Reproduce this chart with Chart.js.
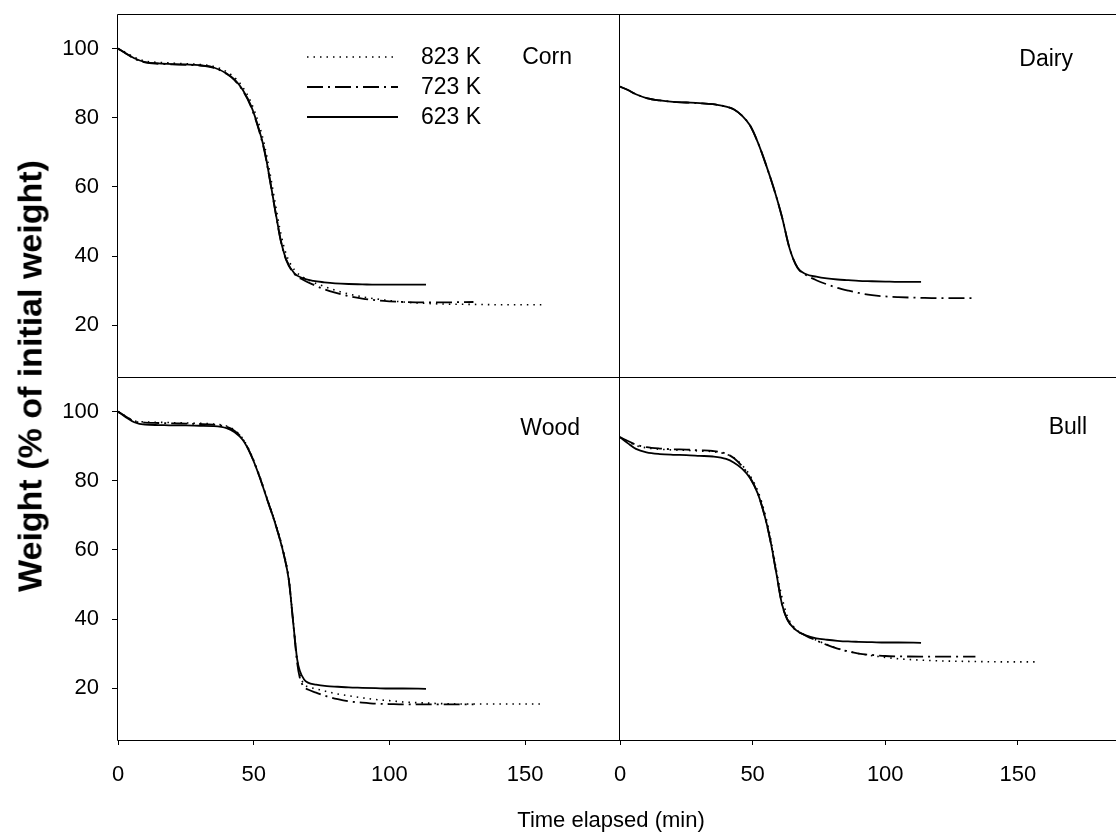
<!DOCTYPE html>
<html>
<head>
<meta charset="utf-8">
<script src="https://cdn.jsdelivr.net/npm/chart.js@4.4.1/dist/chart.umd.min.js"></script>
<style>
  html, body { margin: 0; padding: 0; background: #fff; }
  #wrap { position: relative; width: 1116px; height: 834px; overflow: hidden; font-family: "Liberation Sans", Arial, sans-serif; color: #000; }
  #wrap canvas { position: absolute; }
  #ytitle { position: absolute; left: 30px; top: 376px; transform: translate(-50%, -50%) rotate(-90deg); font-weight: bold; font-size: 34px; white-space: nowrap; }
  #xtitle { position: absolute; left: 611px; top: 820px; transform: translate(-50%, -50%); font-size: 22px; white-space: nowrap; }
</style>
</head>
<body>
<div id="wrap">
  <canvas id="corn" width="620" height="377" style="left:0;top:0"></canvas>
  <canvas id="dairy" width="536" height="377" style="left:580px;top:0"></canvas>
  <canvas id="wood" width="620" height="457" style="left:0;top:377px"></canvas>
  <canvas id="bull" width="536" height="457" style="left:580px;top:377px"></canvas>
  <div id="ytitle">Weight (% of initial weight)</div>
  <div id="xtitle">Time elapsed (min)</div>
</div>
<script>
const yTicks = [20, 40, 60, 80, 100];
const xTicks = [0, 50, 100, 150];
const seriesNames = ['823 K', '723 K', '623 K'];

const cornTime = [0, 3, 6, 10, 15, 20, 25, 30, 35, 40, 43, 46, 49, 52, 54, 56, 58, 60, 62, 65, 68, 72, 76, 80, 85, 90, 95, 100, 105, 113.5, 120, 131, 140, 156];
const corn823 = [100, 98.8, 97.5, 96.4, 96.0, 95.8, 95.6, 95.4, 94.9, 93.3, 91.6, 88.8, 84.5, 78.0, 72.0, 64.0, 55.0, 46.5, 40.5, 36.0, 34.0, 32.4, 31.2, 30.1, 29.0, 28.2, 27.6, 27.1, 26.7, 26.3, 26.1, 26.0, 25.9, 25.9];
const corn723 = [100, 98.5, 97.1, 96.0, 95.6, 95.4, 95.3, 95.1, 94.5, 92.7, 90.8, 87.8, 83.2, 76.2, 70.2, 61.8, 52.8, 44.3, 38.8, 34.8, 33.2, 31.7, 30.4, 29.4, 28.4, 27.7, 27.2, 26.9, 26.7, 26.6, 26.6, 26.7];
const corn623 = [100, 98.6, 97.2, 96.1, 95.7, 95.5, 95.4, 95.2, 94.6, 92.8, 91.0, 88.0, 83.5, 76.5, 70.5, 62.0, 53.0, 44.5, 39.0, 35.0, 33.6, 32.8, 32.4, 32.1, 31.9, 31.8, 31.7, 31.7, 31.7, 31.7];

const dairyTime = [0, 3, 6, 10, 15, 20, 25, 30, 35, 40, 43, 46, 49, 52, 55, 58, 61, 64, 67, 70, 74, 78, 82, 86, 90, 95, 100, 105, 113.5, 120, 134];
const dairy723 = [89.0, 88.0, 86.8, 85.7, 85.0, 84.6, 84.4, 84.2, 83.9, 83.2, 82.4, 80.6, 77.8, 72.8, 66.5, 59.5, 51.5, 42.0, 36.5, 34.6, 33.0, 31.8, 30.8, 30.0, 29.3, 28.7, 28.3, 28.1, 27.9, 27.8, 27.8];
const dairy623 = [89.0, 88.0, 86.8, 85.7, 85.0, 84.6, 84.4, 84.2, 83.9, 83.2, 82.4, 80.6, 77.8, 72.8, 66.5, 59.5, 51.5, 42.0, 36.5, 34.8, 34.0, 33.5, 33.2, 33.0, 32.8, 32.7, 32.6, 32.5, 32.5];

const woodTime = [0, 3, 6, 10, 15, 20, 25, 30, 35, 40, 43, 46, 49, 52, 55, 58, 61, 63, 64.5, 66, 67, 68.5, 70, 73, 77, 81, 85, 90, 95, 100, 105, 113.5, 120, 131, 140, 156];
const wood823 = [100, 98.6, 97.3, 97.0, 96.9, 96.8, 96.7, 96.6, 96.4, 95.8, 94.6, 92.2, 87.8, 81.8, 74.8, 67.8, 59.5, 51.5, 40.0, 28.5, 24.0, 21.2, 20.4, 19.8, 19.0, 18.3, 17.8, 17.2, 16.7, 16.4, 16.0, 15.7, 15.5, 15.4, 15.4, 15.4];
const wood723 = [100, 98.5, 97.2, 96.8, 96.7, 96.6, 96.5, 96.4, 96.2, 95.6, 94.4, 92.0, 87.5, 81.5, 74.5, 67.5, 59.0, 51.0, 39.5, 27.5, 23.0, 20.4, 19.6, 18.7, 17.6, 16.8, 16.2, 15.8, 15.5, 15.4, 15.3, 15.3, 15.3, 15.3];
const wood623 = [100, 98.3, 96.9, 96.2, 96.1, 96.0, 96.0, 95.9, 95.8, 95.2, 94.0, 91.8, 87.5, 81.5, 74.5, 67.5, 59.0, 51.0, 39.5, 28.5, 25.0, 22.6, 21.6, 21.0, 20.6, 20.4, 20.2, 20.1, 20.0, 19.9, 19.9, 19.8];

const bullTime = [0, 3, 6, 10, 15, 20, 25, 30, 35, 40, 43, 46, 49, 52, 55, 57, 59, 61, 63, 66, 70, 74, 78, 82, 86, 90, 95, 100, 105, 113.5, 120, 134, 145, 157];
const bull823 = [92.6, 91.3, 90.2, 89.5, 89.1, 88.9, 88.8, 88.6, 88.4, 87.7, 86.6, 84.5, 81.5, 77.0, 69.5, 62.5, 54.0, 46.5, 41.0, 37.3, 35.3, 33.9, 32.6, 31.5, 30.7, 30.0, 29.4, 28.9, 28.5, 28.1, 27.9, 27.7, 27.6, 27.6];
const bull723 = [92.6, 91.5, 90.4, 89.7, 89.3, 89.1, 89.0, 88.8, 88.6, 87.8, 86.5, 84.2, 81.0, 76.2, 68.5, 61.5, 53.0, 44.5, 40.0, 37.0, 35.2, 33.8, 32.5, 31.4, 30.6, 30.0, 29.6, 29.3, 29.2, 29.1, 29.1, 29.1];
const bull623 = [92.6, 90.8, 89.2, 88.2, 87.7, 87.5, 87.4, 87.2, 87.0, 86.3, 85.2, 83.5, 80.8, 76.2, 68.5, 61.5, 53.0, 44.5, 40.0, 37.0, 35.3, 34.4, 34.0, 33.7, 33.5, 33.4, 33.3, 33.2, 33.2, 33.1];

const FONT = '"Liberation Sans", Arial, sans-serif';
// line style for 823 K, 723 K, 623 K
const lineStyles = [
    { dash: [1.5, 5], width: 1.6 },
    { dash: [16, 5, 2, 5], width: 1.8 },
    { dash: [], width: 1.8 }
];

Chart.defaults.font.family = FONT;
Chart.defaults.color = '#000';

function makePanel(opts) {
    const datasets = [];
    opts.series.forEach((vals, i) => {
        if (!vals) return;
        datasets.push({
            label: seriesNames[i],
            data: vals.map((v, k) => ({ x: opts.time[k], y: v })),
            borderColor: '#000',
            borderWidth: lineStyles[i].width,
            borderDash: lineStyles[i].dash,
            borderCapStyle: 'butt',
            pointRadius: 0,
            fill: false,
            cubicInterpolationMode: 'monotone'
        });
    });

    const decor = {
        id: 'decor_' + opts.id,
        afterDraw(chart) {
            const { ctx, chartArea: a } = chart;
            ctx.save();
            // frame: top, left, bottom
            ctx.strokeStyle = '#000';
            ctx.lineWidth = 1;
            ctx.setLineDash([]);
            ctx.beginPath();
            ctx.moveTo(a.left - 0.5, a.bottom + 0.5);
            ctx.lineTo(a.left - 0.5, a.top + 0.5);
            ctx.lineTo(a.right, a.top + 0.5);
            ctx.moveTo(a.left - 0.5, a.bottom + 0.5);
            ctx.lineTo(a.right, a.bottom + 0.5);
            ctx.stroke();

            ctx.fillStyle = '#000';
            ctx.font = '23px ' + FONT;
            ctx.textBaseline = 'middle';
            ctx.textAlign = 'right';
            ctx.fillText(opts.name, a.right - opts.labelRight, a.top + opts.labelTop);

            if (opts.legend) {
                const lg = opts.legend;
                ctx.textAlign = 'left';
                seriesNames.forEach((nm, i) => {
                    const y = lg.y + i * lg.gap;
                    ctx.lineWidth = lineStyles[i].width;
                    ctx.setLineDash(lineStyles[i].dash);
                    ctx.beginPath();
                    ctx.moveTo(lg.x1, y);
                    ctx.lineTo(lg.x2, y);
                    ctx.stroke();
                    ctx.setLineDash([]);
                    ctx.fillText(nm, lg.tx, y + 1);
                });
            }
            ctx.restore();
        }
    };

    return new Chart(document.getElementById(opts.id), {
        type: 'line',
        data: { datasets },
        plugins: [decor],
        options: {
            responsive: false,
            animation: false,
            devicePixelRatio: 1,
            layout: { padding: opts.padding },
            plugins: { legend: { display: false }, tooltip: { enabled: false } },
            scales: {
                x: {
                    type: 'linear',
                    min: 0,
                    max: opts.xMax,
                    display: opts.showX,
                    afterBuildTicks: s => { s.ticks = xTicks.map(v => ({ value: v })); },
                    afterFit: s => {
                        s.height = opts.showX ? 94 : 0;
                        s.paddingLeft = 0; s.paddingRight = 0;
                    },
                    border: { display: false },
                    grid: { drawOnChartArea: false, drawTicks: true, tickLength: 5, color: '#000', lineWidth: 1 },
                    ticks: { color: '#000', font: { size: 22 }, padding: 17, maxRotation: 0, autoSkip: false }
                },
                y: {
                    type: 'linear',
                    min: 5,
                    max: 110,
                    display: opts.showY,
                    afterBuildTicks: s => { s.ticks = yTicks.map(v => ({ value: v })); },
                    afterFit: s => {
                        s.width = opts.showY ? 118 : 0;
                        s.paddingTop = 0; s.paddingBottom = 0;
                    },
                    border: { display: false },
                    grid: { drawOnChartArea: false, drawTicks: true, tickLength: 6, color: '#000', lineWidth: 1 },
                    ticks: { color: '#000', font: { size: 22 }, padding: 13 }
                }
            }
        }
    });
}

makePanel({
    id: 'corn', name: 'Corn', time: cornTime, series: [corn823, corn723, corn623],
    padding: { top: 14, left: 0, right: 0, bottom: 0 }, showX: false, showY: true, xMax: 185,
    labelRight: 48, labelTop: 44,
    legend: { x1: 307, x2: 398, tx: 421, y: 57, gap: 30 }
});
makePanel({
    id: 'dairy', name: 'Dairy', time: dairyTime, series: [null, dairy723, dairy623],
    padding: { top: 14, left: 40, right: 0, bottom: 0 }, showX: false, showY: false, xMax: 187,
    labelRight: 43, labelTop: 46
});
makePanel({
    id: 'wood', name: 'Wood', time: woodTime, series: [wood823, wood723, wood623],
    padding: { top: 0, left: 0, right: 0, bottom: 0 }, showX: true, showY: true, xMax: 185,
    labelRight: 40, labelTop: 52
});
makePanel({
    id: 'bull', name: 'Bull', time: bullTime, series: [bull823, bull723, bull623],
    padding: { top: 0, left: 40, right: 0, bottom: 0 }, showX: true, showY: false, xMax: 187,
    labelRight: 29, labelTop: 51
});
</script>
</body>
</html>
